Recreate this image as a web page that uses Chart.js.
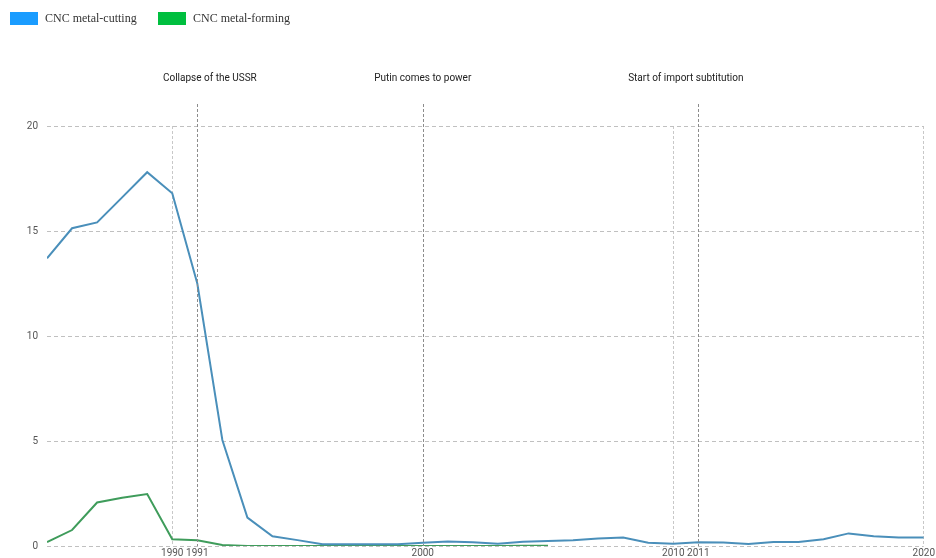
<!DOCTYPE html>
<html>
<head>
<meta charset="utf-8">
<script src="https://cdn.jsdelivr.net/npm/chart.js@4.4.0/dist/chart.umd.min.js"></script>
<style>
  html, body { margin: 0; padding: 0; background: #fff; overflow: hidden; }
  #wrap { position: relative; width: 936px; height: 558px; }
  #machineChart { position: absolute; left: 0; top: 0; }
  #legend { position: absolute; left: 0; top: 0; font: 12px "Liberation Serif", serif; color: #333; }
  #legend .item { position: absolute; top: 12px; white-space: nowrap; }
  #legend .box { position: absolute; left: 0; top: 0; width: 28px; height: 13px; }
  #legend .label { position: absolute; left: 35px; top: -1px; line-height: 15px; }
</style>
</head>
<body>
<div id="wrap">
  <canvas id="machineChart" width="936" height="558" style="width:936px;height:558px"></canvas>
  <div id="legend"></div>
</div>
<script>
const years = [1985, 1986, 1987, 1988, 1989, 1990, 1991, 1992, 1993, 1994, 1995, 1996,
  1997, 1998, 1999, 2000, 2001, 2002, 2003, 2004, 2005, 2006, 2007, 2008, 2009, 2010,
  2011, 2012, 2013, 2014, 2015, 2016, 2017, 2018, 2019, 2020];

const metalCutting = [13.7, 15.13, 15.41, 16.6, 17.8, 16.8, 12.5, 5.05, 1.35, 0.46, 0.28, 0.08,
  0.08, 0.08, 0.08, 0.16, 0.22, 0.18, 0.11, 0.2, 0.24, 0.27, 0.36, 0.4, 0.16, 0.11,
  0.18, 0.17, 0.1, 0.19, 0.19, 0.32, 0.6, 0.46, 0.4, 0.4];

const metalForming = [0.19, 0.76, 2.07, 2.3, 2.47, 0.32, 0.27, 0.05, 0, 0, 0, 0,
  0, 0, 0, 0, 0, 0, 0, 0.01, 0.01, null, null, null, null, null,
  null, null, null, null, null, null, null, null, null, null];

const xTicks = [1990, 1991, 2000, 2010, 2011, 2020];
const yTicks = [0, 5, 10, 15, 20];

const eventYears = [1991, 2000, 2011];
const eventLabelYears = [1991.5, 2000, 2010.5];
const eventLabels = ["Collapse of the USSR", "Putin comes to power", "Start of import subtitution"];

const seriesNames = ["CNC metal-cutting", "CNC metal-forming"];
const legendColors = ["#1a9cff", "#00bf3f"];
const lineColors = ["#4a8fba", "#3f9c5b"];

function toPoints(values) {
  return years.map((yr, i) => ({ x: yr, y: values[i] }));
}

// simple html legend, boxes are brighter than the lines
const legendEl = document.getElementById('legend');
const legendLeft = [10, 158];
seriesNames.forEach((name, i) => {
  const item = document.createElement('div');
  item.className = 'item';
  item.style.left = legendLeft[i] + 'px';
  item.innerHTML = '<span class="box" style="background:' + legendColors[i] + '"></span>' +
    '<span class="label">' + name + '</span>';
  legendEl.appendChild(item);
});

// dashed event lines + captions above the plot
const eventLines = {
  id: 'eventLines',
  afterDatasetsDraw(chart) {
    const { ctx, chartArea, scales } = chart;
    const top = scales.y.getPixelForValue(20) - 22;
    ctx.save();
    ctx.strokeStyle = '#8c8c8c';
    ctx.lineWidth = 1;
    ctx.setLineDash([3, 2]);
    eventYears.forEach(yr => {
      const x = Math.round(scales.x.getPixelForValue(yr)) + 0.5;
      ctx.beginPath();
      ctx.moveTo(x, top);
      ctx.lineTo(x, chartArea.bottom);
      ctx.stroke();
    });
    ctx.setLineDash([]);
    ctx.fillStyle = '#222';
    ctx.font = '10px Roboto';
    ctx.textAlign = 'center';
    ctx.textBaseline = 'middle';
    eventLabels.forEach((txt, i) => {
      ctx.fillText(txt, scales.x.getPixelForValue(eventLabelYears[i]), scales.y.getPixelForValue(20) - 48);
    });
    ctx.restore();
  }
};

const ctx = document.getElementById('machineChart').getContext('2d');
const machineChart = new Chart(ctx, {
  type: 'line',
  data: {
    datasets: [{
      label: seriesNames[0],
      data: toPoints(metalCutting),
      borderColor: lineColors[0],
      backgroundColor: legendColors[0],
      borderWidth: 2,
      pointRadius: 0,
      tension: 0
    }, {
      label: seriesNames[1],
      data: toPoints(metalForming),
      borderColor: lineColors[1],
      backgroundColor: legendColors[1],
      borderWidth: 2,
      pointRadius: 0,
      tension: 0,
      spanGaps: false
    }]
  },
  options: {
    responsive: false,
    devicePixelRatio: 1,
    animation: false,
    layout: { padding: { top: 126, right: 12, left: 0, bottom: 0 } },
    plugins: {
      legend: { display: false },
      tooltip: { enabled: false }
    },
    scales: {
      x: {
        type: 'linear',
        min: 1985,
        max: 2020,
        afterBuildTicks: (scale) => { scale.ticks = xTicks.map(v => ({ value: v })); },
        afterFit: (scale) => { scale.height = 12; },
        ticks: {
          autoSkip: false,
          maxRotation: 0,
          padding: 1,
          color: '#555',
          font: { family: 'Roboto', size: 10 },
          callback: (v) => String(v)
        },
        grid: {
          drawTicks: false,
          color: (c) => eventYears.includes(c.tick && c.tick.value) ? 'rgba(0,0,0,0)' : '#c8c8c8'
        },
        border: { display: false, dash: [3, 2] }
      },
      y: {
        min: 0,
        max: 20,
        afterBuildTicks: (scale) => { scale.ticks = yTicks.map(v => ({ value: v })); },
        afterFit: (scale) => {
          scale.width = 47;
          scale.paddingTop = 0;
          scale.paddingBottom = 0;
        },
        ticks: {
          padding: 9,
          color: '#555',
          font: { family: 'Roboto', size: 10 }
        },
        grid: { drawTicks: false, color: '#c0c0c0' },
        border: { display: false, dash: [4, 3] }
      }
    }
  },
  plugins: [eventLines]
});
</script>
</body>
</html>
